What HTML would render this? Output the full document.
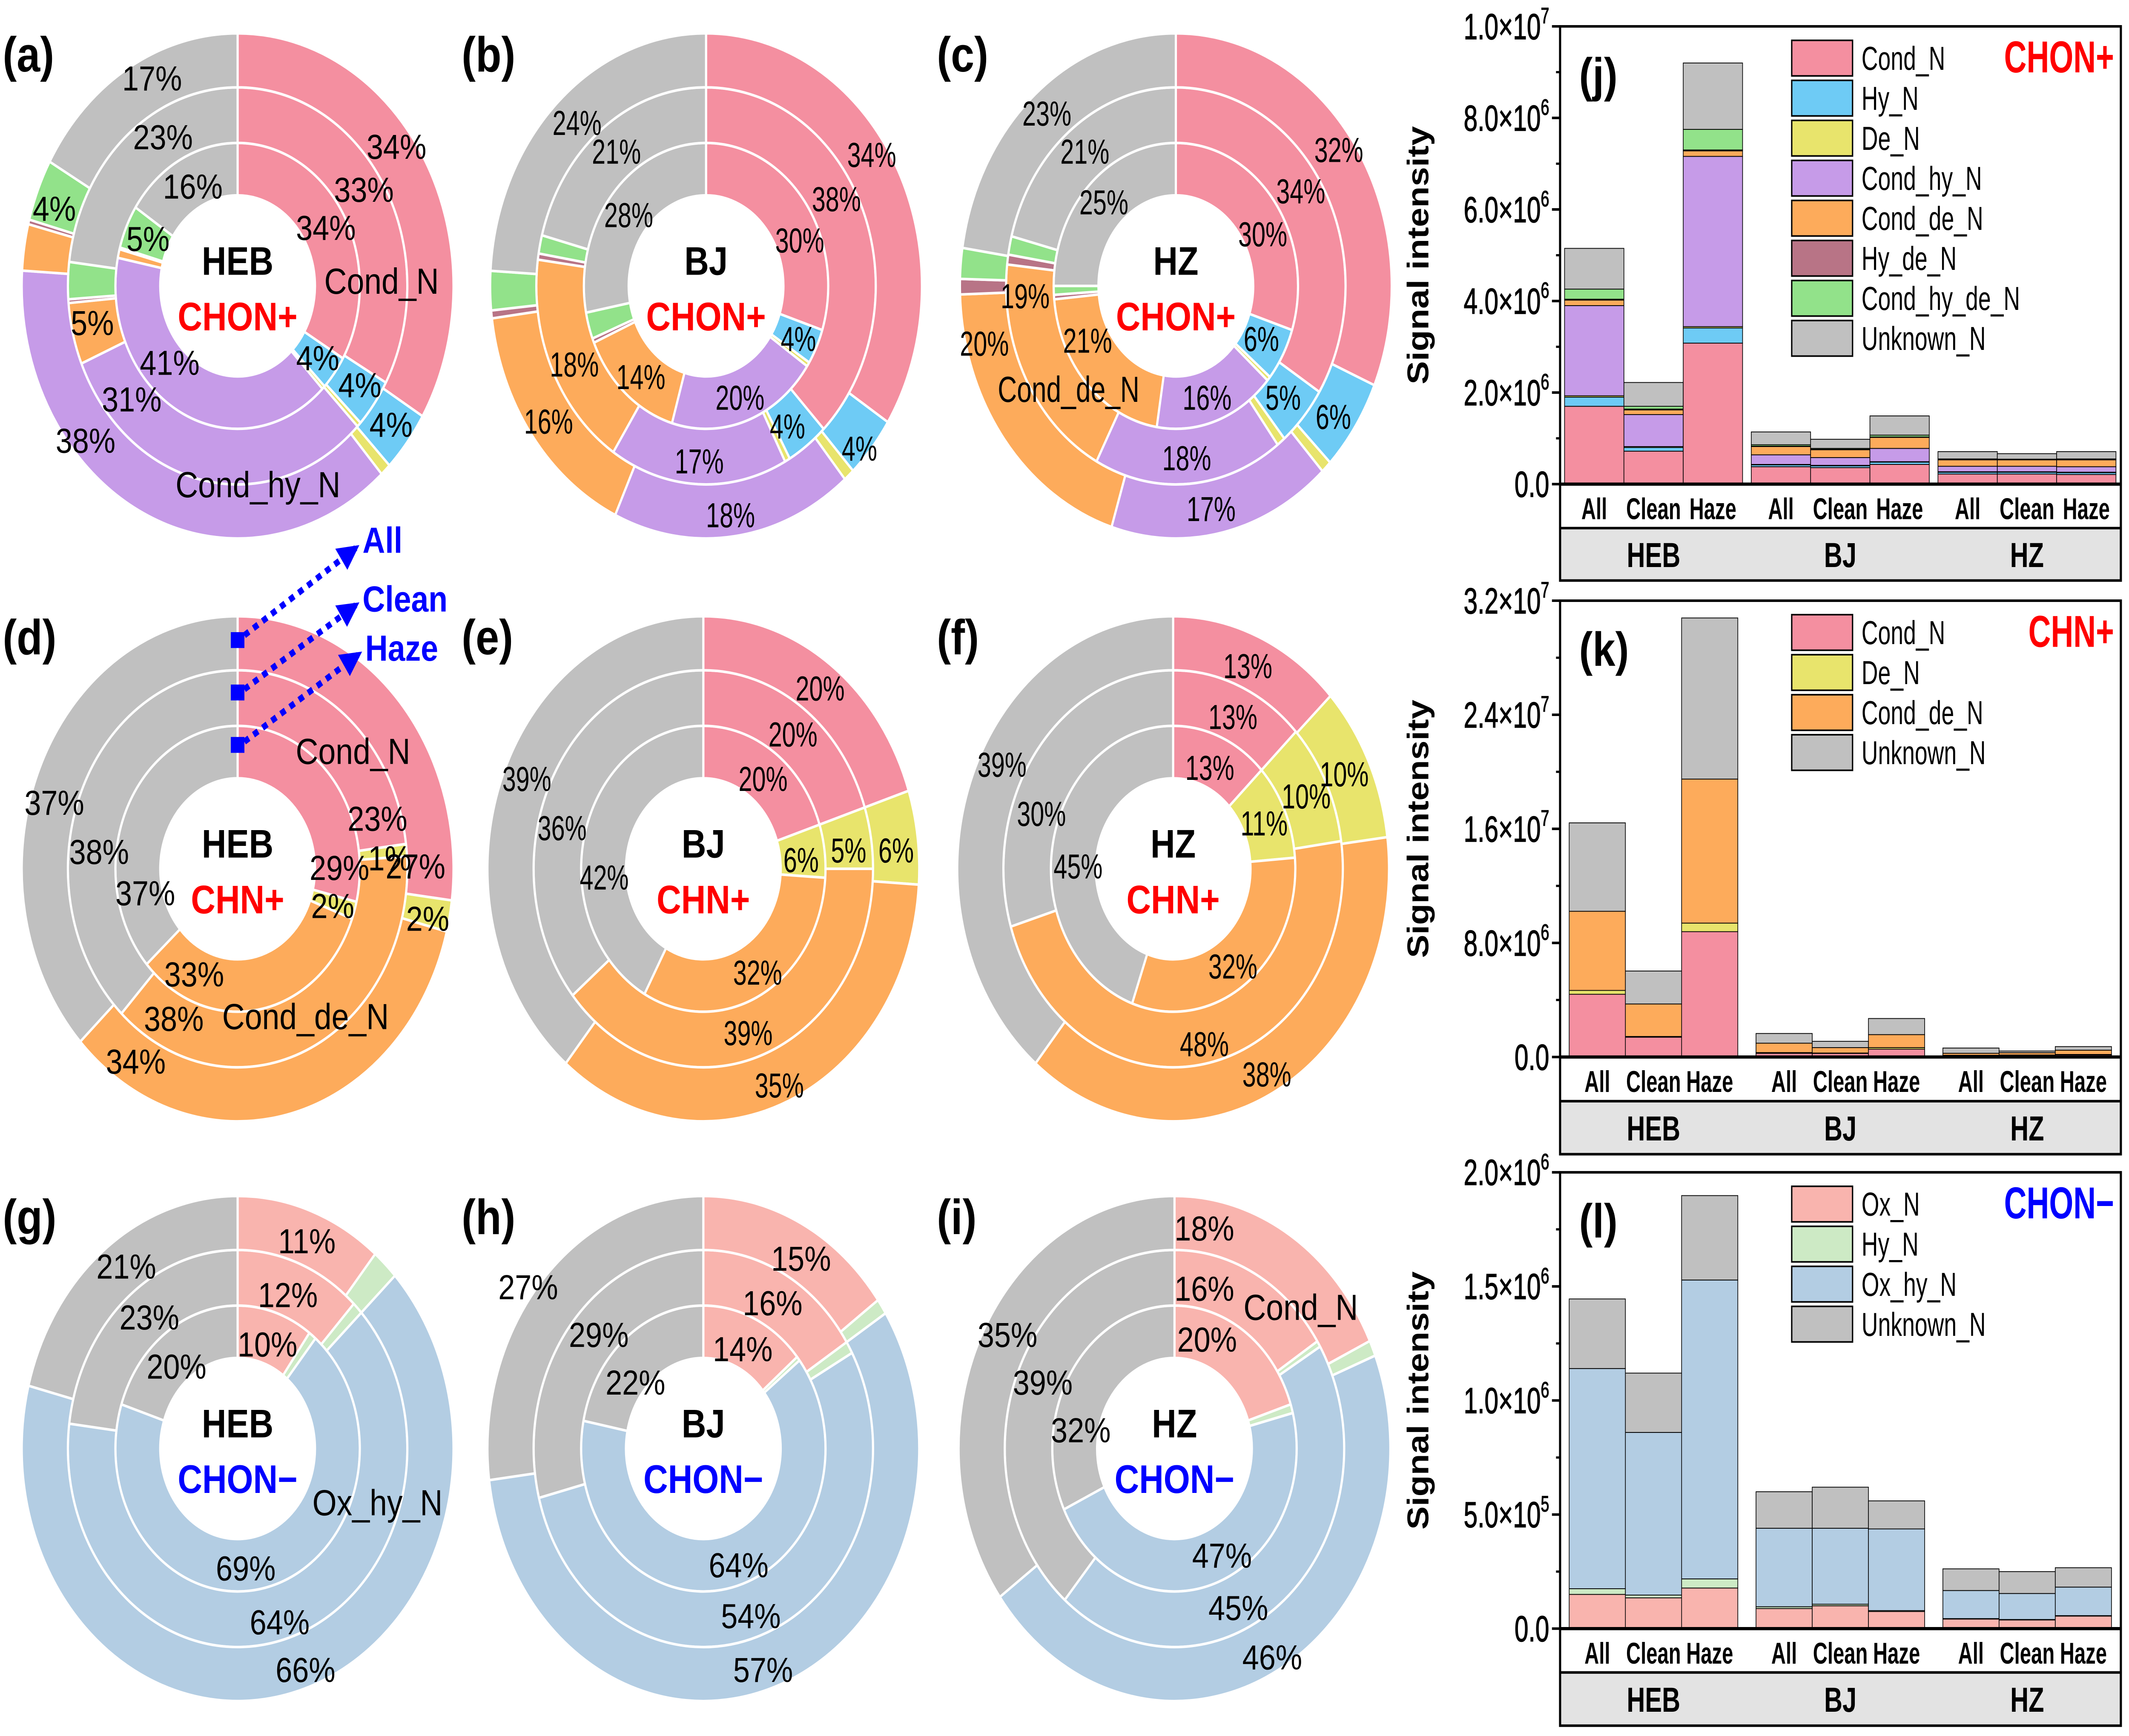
<!DOCTYPE html>
<html><head><meta charset="utf-8"><style>
html,body{margin:0;padding:0;background:#fff;width:100%;height:100%;overflow:hidden;}
svg{display:block;width:100vw;height:100vh;}
text{font-family:"Liberation Sans",Arial,sans-serif;}
</style></head><body>
<svg id="fig" xmlns="http://www.w3.org/2000/svg" viewBox="0 0 1568 1093" preserveAspectRatio="none">
<rect x="0" y="0" width="1568" height="1093" fill="#fff"/>
<g id="pies"></g>
<g id="bars"></g>
<g id="annot">
  <defs><marker id="arr" viewBox="0 0 10 10" refX="8" refY="5" markerWidth="4" markerHeight="4" orient="auto"><path d="M0,0L10,5L0,10z" fill="#0000ff"/></marker></defs>
  <rect x="170" y="398" width="10" height="10" fill="#0000ff"/>
  <rect x="170" y="431" width="10" height="10" fill="#0000ff"/>
  <rect x="170" y="464" width="10" height="10" fill="#0000ff"/>
  <line x1="180" y1="400" x2="262" y2="345" stroke="#0000ff" stroke-width="4" stroke-dasharray="4,4" marker-end="url(#arr)"/>
  <line x1="180" y1="434" x2="262" y2="381" stroke="#0000ff" stroke-width="4" stroke-dasharray="4,4" marker-end="url(#arr)"/>
  <line x1="180" y1="467" x2="264" y2="412" stroke="#0000ff" stroke-width="4" stroke-dasharray="4,4" marker-end="url(#arr)"/>
  <text x="267" y="348" font-size="23" font-weight="bold" fill="#0000ff">All</text>
  <text x="267" y="385" font-size="23" font-weight="bold" fill="#0000ff">Clean</text>
  <text x="269" y="416" font-size="23" font-weight="bold" fill="#0000ff">Haze</text>
</g>
</svg>
<script>
const NS='http://www.w3.org/2000/svg';
function mk(tag,attrs,parent,txt){const e=document.createElementNS(NS,tag);for(const k in attrs)e.setAttribute(k,attrs[k]);if(txt!==undefined)e.textContent=txt;parent.appendChild(e);return e;}

// ---------- donut data (percent, clockwise from 12 o'clock) ----------
const chonCats=['Cond_N','Hy_N','De_N','Cond_hy_N','Cond_de_N','Hy_de_N','Cond_hy_de_N','Unknown_N'];
const chonColors=['#f48fa0','#6ecbf5','#e8e46c','#c69be8','#fdab5b','#b87486','#92e28a','#c0c0c0'];
const chnCats=['Cond_N','De_N','Cond_de_N','Unknown_N'];
const chnColors=['#f48fa0','#e8e46c','#fdab5b','#c0c0c0'];
const chonmCats=['Ox_N','Hy_N','Ox_hy_N','Unknown_N'];
const chonmColors=['#f9b4ae','#cdeac5','#b3cde3','#c0c0c0'];

const aAll=[34,4,0.8,38,3,0.3,4,17];
const aClean=[33,4,0.4,31,5,0.3,3,23];
const aHaze=[34,4,0.4,41,1,0.2,5,16];
const bAll=[34,4,0.8,18,16,0.5,2.5,24];
const bClean=[38,4,0.5,17,18,0.5,1.5,21];
const bHaze=[30,4,0.5,20,14,0.5,3,28];
const cAll=[32,6,0.8,17,20,1,2,23];
const cClean=[34,5,0.8,18,19,0.8,1.5,21];
const cHaze=[30,6,0.5,16,21,0.5,1,25];
const dAll=[27,2,34,37];
const dClean=[23,1,38,38];
const dHaze=[29,2,33,37];
const eAll=[20,6,35,39];
const eClean=[20,5,39,36];
const eHaze=[20,6,32,42];
const fAll=[13,10,38,39];
const fClean=[13,10,48,30];
const fHaze=[13,11,32,45];
const gAll=[11,2,66,21];
const gClean=[12,1,64,23];
const gHaze=[10,1,69,20];
const hAll=[15,1,57,27];
const hClean=[16,1,54,29];
const hHaze=[14,0.5,64,22];
const iAll=[18,1,46,35];
const iClean=[16,0.5,45,39];
const iHaze=[20,1,47,32];

// label placements: [ring(0 haze,1 clean,2 all), category index, x, y]
const aLab=[[2,0,292,92],[1,0,268,119],[0,0,240,143],[0,1,234,225],[1,1,265,242],[2,1,288,267],[0,3,125,228],[1,3,97,251],[2,3,63,277],[1,4,68,203],[0,6,109,150],[2,6,40,131],[1,7,120,86],[0,7,142,117],[2,7,112,49]];
const bLab=[[2,0,642,97],[1,0,616,125],[0,0,589,151],[0,1,588,213],[1,1,580,268],[2,1,633,282],[0,3,545,250],[1,3,515,290],[2,3,538,324],[0,4,472,237],[1,4,423,229],[2,4,404,265],[0,7,463,135],[1,7,454,95],[2,7,425,77]];
const cLab=[[2,0,986,94],[1,0,958,120],[0,0,930,147],[0,1,929,213],[1,1,945,250],[2,1,982,262],[0,3,889,250],[1,3,874,288],[2,3,892,320],[0,4,801,214],[1,4,755,186],[2,4,725,216],[0,7,813,127],[1,7,799,95],[2,7,771,71]];
const dLab=[[2,0,306,545],[1,0,278,515],[0,0,250,546],[1,1,287,540],[0,1,245,570],[2,1,315,578],[1,2,128,641],[0,2,143,613],[2,2,100,668],[2,3,40,505],[1,3,73,536],[0,3,107,562]];
const eLab=[[0,1,590,541],[1,1,625,535],[2,1,660,535],[2,0,604,433],[1,0,584,462],[0,0,562,490],[2,3,388,490],[1,3,414,521],[0,3,445,552],[0,2,558,612],[1,2,551,650],[2,2,574,683]];
const fLab=[[2,0,919,419],[1,0,908,451],[0,0,891,483],[2,1,990,487],[1,1,962,501],[0,1,931,518],[2,3,738,481],[1,3,767,512],[0,3,794,545],[0,2,908,608],[1,2,887,657],[2,2,933,676]];
const gLab=[[2,0,226,781],[1,0,212,815],[0,0,197,846],[0,2,181,987],[1,2,206,1021],[2,2,225,1051],[2,3,93,797],[1,3,110,829],[0,3,130,860]];
const hLab=[[2,0,590,792],[1,0,569,820],[0,0,547,849],[0,2,544,985],[1,2,553,1017],[2,2,562,1051],[2,3,389,810],[1,3,441,840],[0,3,468,870]];
const iLab=[[2,0,887,773],[1,0,887,811],[0,0,889,843],[0,2,900,979],[1,2,912,1012],[2,2,937,1043],[2,3,742,840],[1,3,768,870],[0,3,796,900]];

const RH=57,R1=90,R2=125,R3=159;
const pies=[
 {id:'a',cx:175,cy:180,site:'HEB',type:'CHON+',tc:'#ff0000',cols:chonColors,cats:chonCats,all:aAll,clean:aClean,haze:aHaze,lab:aLab,nar:false},
 {id:'b',cx:520,cy:180,site:'BJ',type:'CHON+',tc:'#ff0000',cols:chonColors,cats:chonCats,all:bAll,clean:bClean,haze:bHaze,lab:bLab,nar:true},
 {id:'c',cx:866,cy:180,site:'HZ',type:'CHON+',tc:'#ff0000',cols:chonColors,cats:chonCats,all:cAll,clean:cClean,haze:cHaze,lab:cLab,nar:true},
 {id:'d',cx:175,cy:547,site:'HEB',type:'CHN+',tc:'#ff0000',cols:chnColors,cats:chnCats,all:dAll,clean:dClean,haze:dHaze,lab:dLab,nar:false},
 {id:'e',cx:518,cy:547,site:'BJ',type:'CHN+',tc:'#ff0000',cols:chnColors,cats:chnCats,all:eAll,clean:eClean,haze:eHaze,lab:eLab,nar:true},
 {id:'f',cx:864,cy:547,site:'HZ',type:'CHN+',tc:'#ff0000',cols:chnColors,cats:chnCats,all:fAll,clean:fClean,haze:fHaze,lab:fLab,nar:true},
 {id:'g',cx:175,cy:912,site:'HEB',type:'CHON\u2212',tc:'#0000ff',cols:chonmColors,cats:chonmCats,all:gAll,clean:gClean,haze:gHaze,lab:gLab,nar:false},
 {id:'h',cx:518,cy:912,site:'BJ',type:'CHON\u2212',tc:'#0000ff',cols:chonmColors,cats:chonmCats,all:hAll,clean:hClean,haze:hHaze,lab:hLab,nar:false},
 {id:'i',cx:865,cy:912,site:'HZ',type:'CHON\u2212',tc:'#0000ff',cols:chonmColors,cats:chonmCats,all:iAll,clean:iClean,haze:iHaze,lab:iLab,nar:false}
];
const catLabels=[
 {p:'a',t:'Cond_N',x:281,y:185},{p:'a',t:'Cond_hy_N',x:190,y:313},
 {p:'c',t:'Cond_de_N',x:787,y:253,nar:true},
 {p:'d',t:'Cond_N',x:260,y:481},{p:'d',t:'Cond_de_N',x:225,y:648},
 {p:'g',t:'Ox_hy_N',x:278,y:954},{p:'i',t:'Cond_N',x:958,y:831}
];

function pt(cx,cy,r,a){return [cx+r*Math.sin(a),cy-r*Math.cos(a)];}
function sector(cx,cy,r0,r1,a0,a1){
  const big=(a1-a0)>Math.PI?1:0;
  const p0=pt(cx,cy,r1,a0),p1=pt(cx,cy,r1,a1),p2=pt(cx,cy,r0,a1),p3=pt(cx,cy,r0,a0);
  return `M${p0[0]},${p0[1]}A${r1},${r1} 0 ${big} 1 ${p1[0]},${p1[1]}L${p2[0]},${p2[1]}A${r0},${r0} 0 ${big} 0 ${p3[0]},${p3[1]}Z`;
}
function ntext(parent,x,y,size,txt,opts){
  opts=opts||{};
  const sx=opts.sx||1;
  const a={transform:`translate(${x},${y}) scale(${sx},1)`,x:0,y:0,'font-size':size,'text-anchor':opts.anchor||'middle'};
  if(opts.bold)a['font-weight']='bold';
  if(opts.fill)a.fill=opts.fill;
  return mk('text',a,parent,txt);
}
const pg=document.getElementById('pies');
pies.forEach(P=>{
  const g=mk('g',{},pg);
  
  
  const rings=[['haze',RH,R1,P.haze],['clean',R1,R2,P.clean],['all',R2,R3,P.all]];
  rings.forEach(([nm,r0,r1,vals])=>{
    const tot=vals.reduce((s,v)=>s+v,0);let acc=0;
    vals.forEach((v,k)=>{
      const a0=acc/tot*2*Math.PI;acc+=v;const a1=acc/tot*2*Math.PI;
      const s=mk('path',{d:sector(P.cx,P.cy,r0,r1,a0,a1),fill:P.cols[k],stroke:'#fff','stroke-width':1.6},g);
      
      
    });
  });
  P.lab.forEach(([ri,ci,x,y])=>{
    const vals=rings[ri][3];
    const t=ntext(g,x,y+8,22,Math.round(vals[ci])+'%',{sx:P.nar?0.82:1});
    
    
  });
  const s1=mk('text',{x:P.cx,y:P.cy-7,'font-size':25,'font-weight':'bold','text-anchor':'middle'},g,P.site);
  
  
  const s2=mk('text',{x:P.cx,y:P.cy+28,'font-size':25,'font-weight':'bold','text-anchor':'middle',fill:P.tc},g,P.type);
  
  
  const col=P.cx<300?0:(P.cx<700?1:2);
  const lx=[2,340,690][col];
  const pl=mk('text',{x:lx,y:P.cy-135,'font-size':31,'font-weight':'bold'},g,'('+P.id+')');
  
  
});
catLabels.forEach(L=>{
  const t=ntext(pg,L.x,L.y,23,L.t,{sx:L.nar?0.85:1});
  
  
});

// ---------- bar data ----------
const barCats=['All','Clean','Haze','All','Clean','Haze','All','Clean','Haze'];
const groups=['HEB','BJ','HZ'];
// (j) CHON+, units 1e6
const jCondN=[1.70,0.72,3.08,0.38,0.36,0.43,0.22,0.22,0.21];
const jHyN=[0.20,0.08,0.33,0.04,0.04,0.05,0.04,0.04,0.04];
const jDeN=[0.03,0.02,0.03,0.01,0.01,0.01,0.01,0.01,0.01];
const jCondHyN=[1.97,0.70,3.72,0.21,0.17,0.29,0.12,0.12,0.12];
const jCondDeN=[0.12,0.10,0.12,0.18,0.17,0.24,0.14,0.14,0.15];
const jHyDeN=[0.02,0.02,0.02,0.01,0.01,0.01,0.01,0.005,0.01];
const jCondHyDeN=[0.22,0.06,0.45,0.03,0.02,0.04,0.01,0.01,0.01];
const jUnknownN=[0.89,0.52,1.45,0.28,0.20,0.42,0.16,0.12,0.16];
const jTicks=[0,2,4,6,8,10];
const jTickLabels=[['0.0',''],['2.0\u00d710','6'],['4.0\u00d710','6'],['6.0\u00d710','6'],['8.0\u00d710','6'],['1.0\u00d710','7']];
// (k) CHN+, units 1e6
const kCondN=[4.40,1.39,8.79,0.26,0.25,0.55,0.10,0.12,0.15];
const kDeN=[0.27,0.05,0.60,0.05,0.03,0.11,0.02,0.02,0.03];
const kCondDeN=[5.55,2.28,10.10,0.66,0.38,0.91,0.14,0.16,0.30];
const kUnknownN=[6.20,2.31,11.30,0.68,0.44,1.13,0.37,0.12,0.25];
const kTicks=[0,8,16,24,32];
const kTickLabels=[['0.0',''],['8.0\u00d710','6'],['1.6\u00d710','7'],['2.4\u00d710','7'],['3.2\u00d710','7']];
// (l) CHON-, units 1e5
const lOxN=[1.50,1.35,1.78,0.88,1.00,0.75,0.42,0.38,0.55];
const lHyN=[0.25,0.12,0.40,0.08,0.07,0.04,0.02,0.02,0.02];
const lOxHyN=[9.65,7.13,13.10,3.44,3.33,3.58,1.23,1.14,1.25];
const lUnknownN=[3.05,2.60,3.70,1.60,1.80,1.23,0.95,0.96,0.85];
const lTicks=[0,5,10,15,20];
const lTickLabels=[['0.0',''],['5.0\u00d710','5'],['1.0\u00d710','6'],['1.5\u00d710','6'],['2.0\u00d710','6']];

const charts=[
 {id:'j',top:16.6,zero:304.8,band:332.5,bot:365.5,max:10,minor:1,ticks:jTicks,tl:jTickLabels,
  series:[jCondN,jHyN,jDeN,jCondHyN,jCondDeN,jHyDeN,jCondHyDeN,jUnknownN],cols:chonColors,names:chonCats,title:'CHON+',tc:'#ff0000',x0:1152.3,bw:43.7,gs:137.5},
 {id:'k',top:378.2,zero:665.5,band:693.3,bot:726.7,max:32,minor:4,ticks:kTicks,tl:kTickLabels,
  series:[kCondN,kDeN,kCondDeN,kUnknownN],cols:chnColors,names:chnCats,title:'CHN+',tc:'#ff0000',x0:1155.7,bw:41.4,gs:137.6},
 {id:'l',top:738.1,zero:1025.4,band:1053,bot:1086.5,max:20,minor:2.5,ticks:lTicks,tl:lTickLabels,
  series:[lOxN,lHyN,lOxHyN,lUnknownN],cols:chonmColors,names:chonmCats,title:'CHON\u2212',tc:'#0000ff',x0:1155.7,bw:41.4,gs:137.6}
];
const PL=1149,PR=1562;
const bg=document.getElementById('bars');
charts.forEach(C=>{
  const g=mk('g',{},bg);
  
  
  const y=v=>C.zero-(v/C.max)*(C.zero-C.top);
  const xb=i=>C.x0+Math.floor(i/3)*C.gs+(i%3)*C.bw;
  const band=mk('rect',{x:PL,y:C.band,width:PR-PL,height:C.bot-C.band,fill:'#e3e3e3'},g);
  
  
  barCats.forEach((c,i)=>{
    let acc=0;
    C.series.forEach((ser,k)=>{
      const v=ser[i];const y0=y(acc);acc+=v;const y1=y(acc);
      const r=mk('rect',{x:xb(i),y:y1,width:C.bw,height:Math.max(0,y0-y1),fill:C.cols[k],stroke:'#000','stroke-width':0.5},g);
      
      
    });
    const t=ntext(g,xb(i)+C.bw/2,C.zero+22,19,c,{bold:true,sx:0.78});
    
    
  });
  groups.forEach((gn,gi)=>{
    const t=ntext(g,xb(gi*3)+C.bw*1.5,(C.band+C.bot)/2+8,22,gn,{bold:true,sx:0.85});
    
    
  });
  const fr=mk('rect',{x:PL,y:C.top,width:PR-PL,height:C.bot-C.top,fill:'none',stroke:'#000','stroke-width':1.6},g);
  
  
  const xa=mk('line',{x1:PL,x2:PR,y1:C.zero,y2:C.zero,stroke:'#000','stroke-width':2},g);
  
  
  mk('line',{x1:PL,x2:PR,y1:C.band,y2:C.band,stroke:'#000','stroke-width':1.6},g);
  for(let v=0;v<=C.max+1e-9;v+=C.minor){
    mk('line',{x1:PL-3,x2:PL,y1:y(v),y2:y(v),stroke:'#000','stroke-width':1.4},g);
  }
  C.ticks.forEach((v,ti)=>{
    mk('line',{x1:PL-6,x2:PL,y1:y(v),y2:y(v),stroke:'#000','stroke-width':1.6},g);
    const [m,e]=C.tl[ti];
    const t=mk('text',{x:0,y:0,transform:`translate(${PL-8},${y(v)+8}) scale(0.8,1)`,'font-size':23,'text-anchor':'end','stroke':'#000','stroke-width':0.4},g);
    
    
    if(e){t.textContent=m;mk('tspan',{dy:-10,'font-size':14},t,e);} else t.textContent=m;
  });
  const yt=mk('text',{x:0,y:0,'font-size':22,'font-weight':'bold','text-anchor':'middle',transform:`translate(1052,${(C.top+C.zero)/2}) rotate(-90)`},g,'Signal intensity');
  
  
  const pl=mk('text',{x:1163,y:C.top+41,'font-size':30,'font-weight':'bold'},g,'('+C.id+')');
  
  
  C.names.forEach((n,k)=>{
    const ly=C.top+8.8+k*25.2;
    const b=mk('rect',{x:1319.6,y:ly,width:44.8,height:22.4,fill:C.cols[k],stroke:'#000','stroke-width':1},g);
    
    
    const t=ntext(g,1371,ly+18.5,21,n,{anchor:'start',sx:0.8});
    
    
  });
  const tt=ntext(g,1557,C.top+29,28,C.title,{anchor:'end',bold:true,fill:C.tc,sx:0.82});
  
  
});
</script>
</body></html>
